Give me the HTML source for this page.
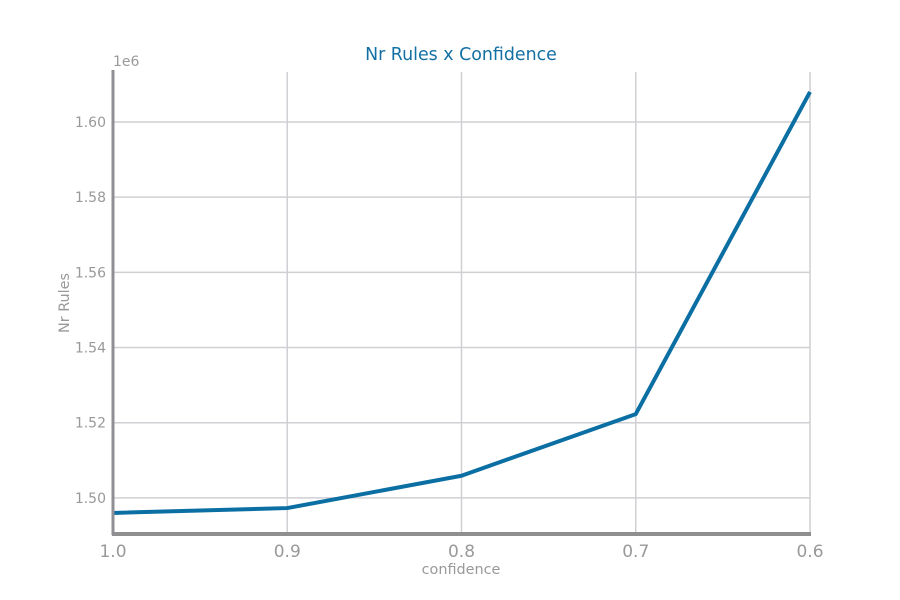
<!DOCTYPE html>
<html><head><meta charset="utf-8"><style>
html,body{margin:0;padding:0;background:#fff;}
svg{display:block;font-family:"DejaVu Sans","Liberation Sans",sans-serif;}
</style></head><body>
<svg id="chart" width="900" height="600">
<text x="461" y="60" text-anchor="middle" font-size="17.4" fill="#1470a3">Nr Rules x Confidence</text>
<g id="grid"></g>
<g id="ticks"></g>
<path id="line" fill="none" stroke="#0b6fa3" stroke-width="4" stroke-linejoin="round"/>
<line x1="113" y1="70" x2="113" y2="535" stroke="#8f8f95" stroke-width="3"/>
<line x1="112" y1="534" x2="811" y2="534" stroke="#8f8f8f" stroke-width="4"/>
<text x="113" y="66" font-size="14" fill="#999">1e6</text>
<text x="461" y="574" text-anchor="middle" font-size="14.4" fill="#999">confidence</text>
<text x="69" y="303" text-anchor="middle" font-size="14.4" fill="#999" transform="rotate(-90 69 303)">Nr Rules</text>
</svg>
<script>
const categories=["1.0","0.9","0.8","0.7","0.6"];
const values=[1.4960,1.4973,1.5059,1.5223,1.6080];
const yTicks=[1.50,1.52,1.54,1.56,1.58,1.60];
const yTickLabels=["1.50","1.52","1.54","1.56","1.58","1.60"];
const NS="http://www.w3.org/2000/svg";
const x0=113,x1=810,yMin=1.4904,yMax=1.6133,py0=534,py1=72;
function xs(i){return x0+i*(x1-x0)/(categories.length-1);}
function ys(v){return py0-(v-yMin)/(yMax-yMin)*(py0-py1);}
const grid=document.getElementById('grid'),ticks=document.getElementById('ticks');
function mk(tag,attrs,parent){const e=document.createElementNS(NS,tag);for(const k in attrs)e.setAttribute(k,attrs[k]);parent.appendChild(e);return e;}
yTicks.forEach((t,i)=>{
 const y=ys(t);
 const l=mk('line',{x1:x0,x2:x1,y1:y,y2:y,stroke:'#cfcfd4','stroke-width':1.5},grid);
 
 
 const tx=mk('text',{x:106,y:y+5,'text-anchor':'end','font-size':14,fill:'#999'},ticks);
 tx.textContent=yTickLabels[i];
 
 
});
categories.forEach((c,i)=>{
 const x=xs(i);
 const l=mk('line',{x1:x,x2:x,y1:py1,y2:py0,stroke:'#cfcfd4','stroke-width':1.5},grid);
 
 
 const tx=mk('text',{x:x,y:557,'text-anchor':'middle','font-size':17,fill:'#999'},ticks);
 tx.textContent=c;
 
 
});
document.getElementById('line').setAttribute('d',values.map((v,i)=>(i?'L':'M')+xs(i)+','+ys(v)).join(' '));
</script>
</body></html>
